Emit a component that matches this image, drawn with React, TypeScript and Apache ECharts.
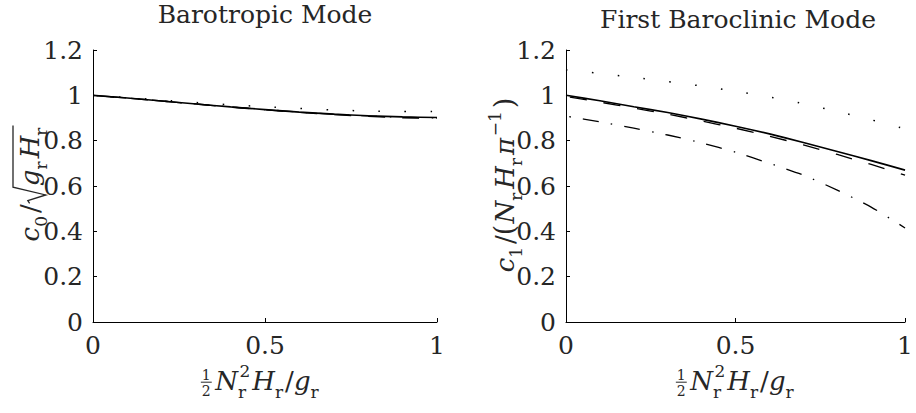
import React, { useEffect, useRef } from 'react';
import * as echarts from 'echarts';

const FONT = "'DejaVu Serif', serif";
const INK = '#262626';

// x values: (1/2) N_r^2 H_r / g_r
const xs = [0, 0.1, 0.2, 0.3, 0.4, 0.5, 0.6, 0.7, 0.8, 0.9, 1.0];

// Barotropic mode, c0 / sqrt(g_r H_r)
const baroSolid = [1.0, 0.988, 0.975, 0.962, 0.949, 0.937, 0.926, 0.917, 0.91, 0.905, 0.902];
const baroDashed = [1.0, 0.988, 0.975, 0.961, 0.948, 0.936, 0.925, 0.915, 0.907, 0.901, 0.899];
const baroDashDot = [1.0, 0.988, 0.975, 0.962, 0.949, 0.937, 0.926, 0.916, 0.909, 0.903, 0.9];
const baroDotted = [1.0, 0.99, 0.979, 0.968, 0.958, 0.95, 0.942, 0.935, 0.931, 0.929, 0.928];

// First baroclinic mode, c1 / (N_r H_r pi^-1)
const bcSolid = [1.0, 0.976, 0.95, 0.924, 0.895, 0.864, 0.83, 0.792, 0.752, 0.712, 0.67];
const bcDashed = [0.995, 0.97, 0.944, 0.917, 0.887, 0.855, 0.82, 0.781, 0.739, 0.695, 0.648];
const bcDashDot = [0.908, 0.883, 0.855, 0.825, 0.79, 0.749, 0.7, 0.648, 0.582, 0.507, 0.415];
const bcDotted = [1.112, 1.097, 1.079, 1.061, 1.041, 1.018, 0.993, 0.963, 0.929, 0.892, 0.852];

const titles = ['Barotropic Mode', 'First Baroclinic Mode'];

type Tok = { t?: string; it?: boolean; sub?: string; sup?: string; frac?: [string, string]; sqrt?: Tok[]; gap?: number; sz?: number };

const xName: Tok[] = [
  { frac: ['1', '2'] },
  { gap: 1 },
  { t: 'N', it: true, sub: 'r', sup: '2' },
  { gap: 1 },
  { t: 'H', it: true, sub: 'r' },
  { gap: 1 },
  { t: '/' },
  { t: 'g', it: true, sub: 'r' },
];
const yName0: Tok[] = [
  { t: 'c', it: true, sub: '0' },
  { gap: 2 },
  { t: '/' },
  { gap: 1 },
  { sqrt: [{ t: 'g', it: true, sub: 'r' }, { gap: 2 }, { t: 'H', it: true, sub: 'r' }] },
];
const yName1: Tok[] = [
  { t: 'c', it: true, sub: '1' },
  { gap: 2 },
  { t: '/' },
  { t: '(', sz: 27 },
  { gap: 1 },
  { t: 'N', it: true, sub: 'r' },
  { gap: 3 },
  { t: 'H', it: true, sub: 'r' },
  { gap: 2 },
  { t: 'π', it: true, sup: '−1' },
  { gap: 2 },
  { t: ')', sz: 27 },
];

const S = 26;
const s = 17;
const F = 14;

let ctx: CanvasRenderingContext2D | null = null;
function meas(text: string, size: number, it: boolean): number {
  if (!ctx) ctx = document.createElement('canvas').getContext('2d');
  if (!ctx) return text.length * size * 0.6;
  ctx.font = `${it ? 'italic ' : ''}${size}px ${FONT}`;
  return ctx.measureText(text).width;
}

function tx(text: string, x: number, baseline: number, size: number, it: boolean, align = 'left') {
  return {
    type: 'text',
    x,
    y: baseline - 0.35 * size,
    style: {
      text,
      fontSize: size,
      fontFamily: FONT,
      fontStyle: it ? 'italic' : 'normal',
      fill: INK,
      align,
      verticalAlign: 'middle',
      lineHeight: size * 0.7,
    },
  };
}

function lay(toks: Tok[], x0: number, out: any[]): number {
  let x = x0;
  for (const k of toks) {
    if (k.gap) {
      x += k.gap;
    } else if (k.frac) {
      const [n, d] = k.frac;
      const w = Math.max(meas(n, F, false), meas(d, F, false)) + 3;
      const ax = -0.3 * S;
      out.push(tx(n, x + w / 2, ax - 2.5, F, false, 'center'));
      out.push(tx(d, x + w / 2, ax + 3.5 + 0.73 * F, F, false, 'center'));
      out.push({ type: 'line', shape: { x1: x + 0.5, y1: ax, x2: x + w - 0.5, y2: ax }, style: { stroke: INK, lineWidth: 1 } });
      x += w + 2;
    } else if (k.sqrt) {
      const x1 = x;
      const inner0 = x + 0.66 * S;
      const xe = lay(k.sqrt, inner0, out);
      const top = -1.0 * S;
      out.push({
        type: 'polyline',
        shape: { points: [[x1, -0.36 * S], [x1 + 0.1 * S, -0.43 * S], [x1 + 0.32 * S, 0.26 * S], [x1 + 0.62 * S, top], [xe + 1, top]] },
        style: { stroke: INK, lineWidth: 1.3, fill: null },
      });
      x = xe + 2;
    } else if (k.t) {
      const it = !!k.it;
      const size = k.sz || S;
      out.push(tx(k.t, x, 0, size, it));
      x += meas(k.t, size, it);
      let e = x;
      if (k.sup) {
        out.push(tx(k.sup, x + 1.5, -0.5 * S, s, false));
        e = Math.max(e, x + 1.5 + meas(k.sup, s, false));
      }
      if (k.sub) {
        const sx = x;
        out.push(tx(k.sub, sx, 0.3 * S, s, false));
        e = Math.max(e, sx + meas(k.sub, s, false));
      }
      x = e + (k.sub || k.sup ? 1 : 0);
    }
  }
  return x;
}

function mathGroup(toks: Tok[], cx: number, cy: number, rotation: number) {
  const W = lay(toks, 0, []);
  const out: any[] = [];
  lay(toks, -W / 2, out);
  return { type: 'group', x: cx, y: cy, rotation, children: out };
}

function lineSeries(ys: number[], gi: number, kind: 'solid' | 'dashed' | 'dashdot' | 'dotted') {
  const ls: any = { color: '#000', width: 1.3 };
  if (kind === 'solid') ls.width = 1.6;
  if (kind === 'dashed') { ls.type = [17, 17]; ls.dashOffset = 30; }
  if (kind === 'dashdot') { ls.type = [16, 12.5, 1.5, 12]; ls.dashOffset = 25; }
  if (kind === 'dotted') { ls.type = [1.5, 24.5]; ls.width = 1.5; }
  return {
    type: 'line',
    xAxisIndex: gi,
    yAxisIndex: gi,
    data: xs.map((x, i) => [x, ys[i]]),
    showSymbol: false,
    symbol: 'none',
    smooth: 0.2,
    lineStyle: ls,
    z: kind === 'solid' ? 3 : 2,
  };
}

const axisBase = {
  axisLine: { show: true, onZero: false, lineStyle: { color: '#000', width: 1 } },
  axisTick: { show: true, inside: true, length: 4, lineStyle: { color: '#000', width: 1 } },
  splitLine: { show: false },
};

export default function App() {
  const ref = useRef<HTMLDivElement>(null);
  useEffect(() => {
    if (!ref.current) return;
    const chart = echarts.init(ref.current, null, { renderer: 'svg' });
    const grids = [
      { left: 93, top: 50, width: 344, height: 272 },
      { left: 566, top: 50, width: 345, height: 272 },
    ];
    chart.setOption({
      animation: false,
      backgroundColor: '#fff',
      grid: grids,
      xAxis: [0, 1].map((i) => ({
        type: 'value',
        gridIndex: i,
        min: 0,
        max: 1,
        interval: 0.5,
        ...axisBase,
        axisLabel: { fontFamily: FONT, fontSize: 25, color: INK, margin: 11 },
      })),
      yAxis: [0, 1].map((i) => ({
        type: 'value',
        gridIndex: i,
        min: 0,
        max: 1.2,
        interval: 0.2,
        ...axisBase,
        axisLabel: { fontFamily: FONT, fontSize: 25, color: INK, margin: 10 },
      })),
      series: [
        lineSeries(baroDashed, 0, 'dashed'),
        lineSeries(baroDashDot, 0, 'dashdot'),
        lineSeries(baroDotted, 0, 'dotted'),
        lineSeries(baroSolid, 0, 'solid'),
        lineSeries(bcDashed, 1, 'dashed'),
        lineSeries(bcDashDot, 1, 'dashdot'),
        lineSeries(bcDotted, 1, 'dotted'),
        lineSeries(bcSolid, 1, 'solid'),
      ],
      graphic: [
        {
          type: 'text', x: 265, y: 14,
          style: { text: titles[0], fontSize: 25, fontFamily: FONT, fill: INK, align: 'center', verticalAlign: 'middle' },
        },
        {
          type: 'text', x: 738, y: 19,
          style: { text: titles[1], fontSize: 25, fontFamily: FONT, fill: INK, align: 'center', verticalAlign: 'middle' },
        },
        mathGroup(xName, 260, 390, 0),
        mathGroup(xName, 735, 390, 0),
        mathGroup(yName0, 39, 183, Math.PI / 2),
        mathGroup(yName1, 514, 185, Math.PI / 2),
      ],
    });
    return () => chart.dispose();
  }, []);
  return <div ref={ref} style={{ position: 'absolute', left: 0, top: 0, width: 916, height: 413 }} />;
}
